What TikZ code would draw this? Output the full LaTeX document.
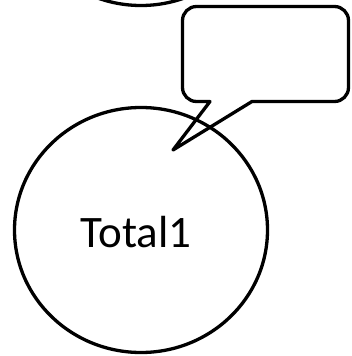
\documentclass[tikz,border=0pt]{standalone}
\usepackage{fontspec}
\setmainfont{Carlito}
\usetikzlibrary{shapes.geometric}

\begin{document}
\begin{tikzpicture}[x=1pt,y=1pt,line width=3.3pt,line join=round,
                    blob/.style={ellipse,draw,inner sep=0pt,font=\fontsize{45}{54}\selectfont}]
  \useasboundingbox (0,0) rectangle (351,-356);

  \node[blob,minimum width=253pt,minimum height=250pt] (upper) at (141,119.5) {};
  \node[blob,minimum width=253pt,minimum height=245pt,
        label={[xshift=-5pt,yshift=-2pt,font=\fontsize{45}{54}\selectfont]center:Total1}] (total1) at (141,-230) {};

  \coordinate (tip) at (173,-150);
  % speech bubble
  \draw (252,-101.5) [rounded corners=14pt] -- (348.5,-101.5) -- (348.5,-6.5)
        -- (182.5,-6.5) -- (182.5,-101.5) [sharp corners] -- (210,-101.5) -- (tip) -- cycle;
\end{tikzpicture}
\end{document}
